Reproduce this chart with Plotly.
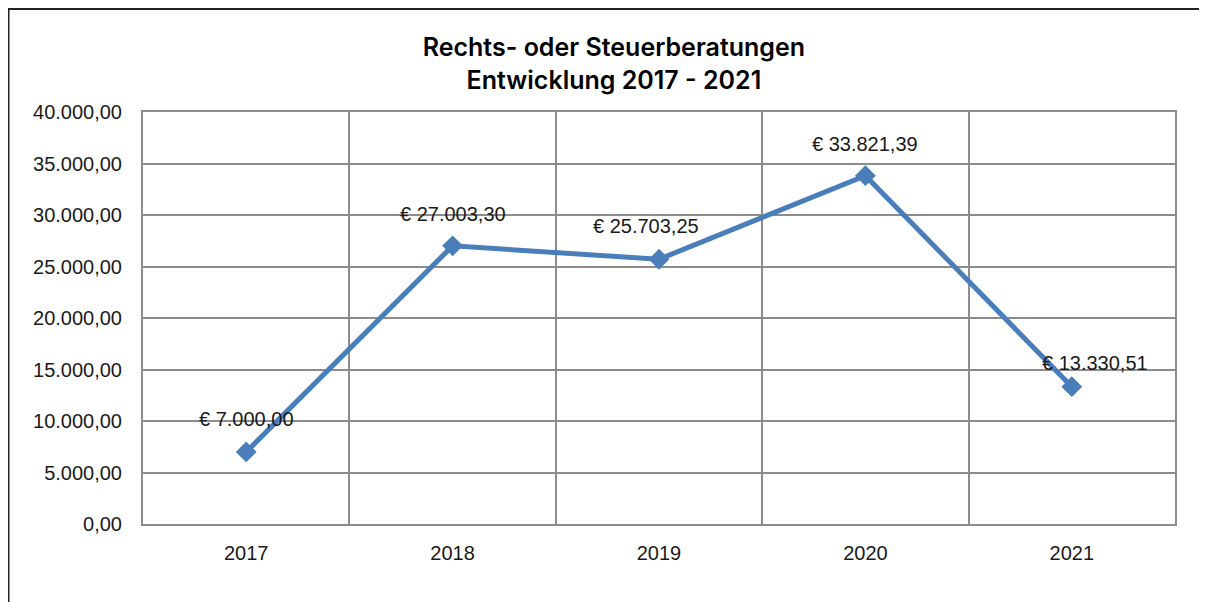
import plotly.graph_objects as go

years = ["2017", "2018", "2019", "2020", "2021"]
values = [7000.00, 27003.30, 25703.25, 33821.39, 13330.51]
label_xshift = [0, 0, -13, 0, 23]
label_yshift = [33, 32, 33, 32, 24]
y_ticks = [0, 5000, 10000, 15000, 20000, 25000, 30000, 35000, 40000]


def de_fmt(v):
    s = f"{v:,.2f}"
    return s.replace(",", "X").replace(".", ",").replace("X", ".")


fig = go.Figure()
fig.add_trace(go.Scatter(
    x=years, y=values, mode="lines+markers",
    line=dict(color="#4A7EBB", width=5),
    marker=dict(symbol="diamond", size=16, color="#4A7EBB"),
    hoverinfo="skip", showlegend=False,
))

for i, v in enumerate(values):
    fig.add_annotation(
        x=i, y=v, xref="x", yref="y", text="€ " + de_fmt(v), showarrow=False,
        xshift=label_xshift[i], yshift=label_yshift[i],
        font=dict(family="Liberation Sans", size=20, color="#1a1a1a"),
    )

grid_col = "#8C8C8C"
W, H = 1207, 602
L, R, T, B = 135, 40, 104, 86
fig.update_layout(
    width=W, height=H,
    margin=dict(l=L, r=R, t=T, b=B),
    paper_bgcolor="white", plot_bgcolor="white",
    separators=",.",
    title=dict(
        text="Rechts- oder Steuerberatungen<br>Entwicklung 2017 - 2021",
        x=0.502, xref="container", xanchor="center",
        y=1 - 48 / H, yref="container", yanchor="middle",
        font=dict(family="Inter", size=25, color="#000000", weight=600),
    ),
    xaxis=dict(
        type="category", tickson="boundaries", showgrid=True,
        gridcolor=grid_col, gridwidth=2,
        showline=True, linecolor=grid_col, linewidth=2, mirror=True,
        ticks="", ticklabelstandoff=10,
        tickfont=dict(family="Liberation Sans", size=20, color="#1a1a1a"),
        range=[-0.5, 4.5], zeroline=False,
    ),
    yaxis=dict(
        range=[0, 40000], tickvals=y_ticks, tickformat=",.2f",
        showgrid=True, gridcolor=grid_col, gridwidth=2,
        showline=True, linecolor=grid_col, linewidth=2, mirror=True,
        ticks="", ticklabelstandoff=15, zeroline=False,
        tickfont=dict(family="Liberation Sans", size=20, color="#1a1a1a"),
    ),
)

pw = W - L - R
ph = H - T - B
# outer chart border (left and top edges), in pixel offsets from plot domain
fig.add_shape(type="line", xref="x domain", yref="y domain",
              x0=(0.5 - L) / pw, x1=(0.5 - L) / pw,
              y0=(H - B - 1) / ph, y1=-(B + 10) / ph,
              line=dict(color="#222222", width=2))
fig.add_shape(type="line", xref="x domain", yref="y domain",
              x0=(0 - L) / pw, x1=(W - L) / pw,
              y0=(H - B - 1) / ph, y1=(H - B - 1) / ph,
              line=dict(color="#222222", width=2))

fig.write_html("out.html")
